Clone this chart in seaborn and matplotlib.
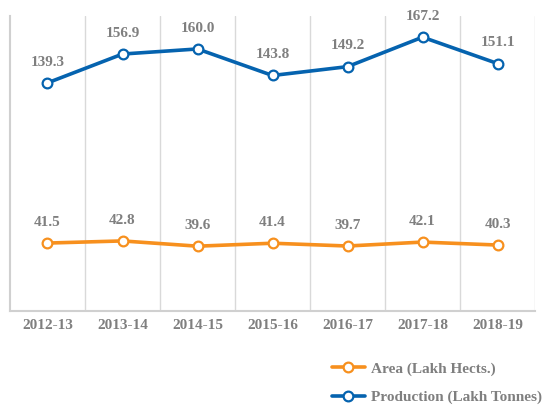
import pandas as pd
import numpy as np
import matplotlib
matplotlib.use('Agg')
import matplotlib.pyplot as plt
import seaborn as sns

# Data
years = ['2012-13', '2013-14', '2014-15', '2015-16', '2016-17', '2017-18', '2018-19']
area = [41.5, 42.8, 39.6, 41.4, 39.7, 42.1, 40.3]
production = [139.3, 156.9, 160.0, 143.8, 149.2, 167.2, 151.1]
series_names = ['Area (Lakh Hects.)', 'Production (Lakh Tonnes)']

orange = '#F7901E'
blue = '#0563AF'
grey = '#7F7F7F'

sns.set_style('white')
plt.rcParams['font.family'] = ['Liberation Serif', 'DejaVu Serif']
plt.rcParams['font.weight'] = 'bold'

data = pd.DataFrame({
    'pos': list(range(len(years))) * 2,
    'value': area + production,
    'series': [series_names[0]] * len(years) + [series_names[1]] * len(years),
})

fig = plt.figure(figsize=(5.43, 4.05), dpi=100)
ax = fig.add_axes([0.0184, 0.232, 0.967, 0.728])

sns.lineplot(data=data, x='pos', y='value', hue='series',
             palette=[orange, blue], marker='o', markersize=7,
             markerfacecolor='white', markeredgewidth=1.6,
             linewidth=2.6, ax=ax, legend=False)

# Recolour marker edges to match lines
for line, c in zip(ax.lines, [orange, blue]):
    line.set_markeredgecolor(c)

# Value labels
for vals in [area, production]:
    for i, v in enumerate(vals):
        ax.annotate(f'{v:.1f}', (i, v), xytext=(0, 15), textcoords='offset points',
                    ha='center', va='center', fontsize=11, color=grey, fontweight='bold')

ax.set_xlim(-0.5, len(years) - 0.5)
ax.set_ylim(0, 180)
ax.set_xticks(range(len(years)))
ax.set_xticklabels(years, fontsize=11, color=grey, fontweight='bold')
ax.set_yticks([])
ax.tick_params(axis='x', length=0, pad=6)
ax.set_xticks(np.arange(0.5, len(years)), minor=True)
ax.tick_params(axis='x', which='minor', length=0)
ax.grid(axis='x', which='minor', color='#D9D9D9', linewidth=1)
ax.set_xlabel('')
ax.set_ylabel('')

for side in ['top', 'right']:
    ax.spines[side].set_visible(False)
for side in ['left', 'bottom']:
    ax.spines[side].set_color('#D0D0D0')
    ax.spines[side].set_linewidth(1.5)

# Legend at bottom right
handles = [plt.Line2D([], [], color=c, linewidth=2.6, marker='o', markersize=7,
                      markerfacecolor='white', markeredgecolor=c, markeredgewidth=1.6)
           for c in [orange, blue]]
leg = fig.legend(handles, series_names, loc='lower right', bbox_to_anchor=(1.0, 0.0),
                 frameon=False, fontsize=11, handlelength=2.2, handletextpad=0.4,
                 labelspacing=0.95, borderpad=0.0, borderaxespad=0.05, alignment='left')
for t in leg.get_texts():
    t.set_color(grey)
    t.set_fontweight('bold')

fig.savefig('out.png', dpi=100)
